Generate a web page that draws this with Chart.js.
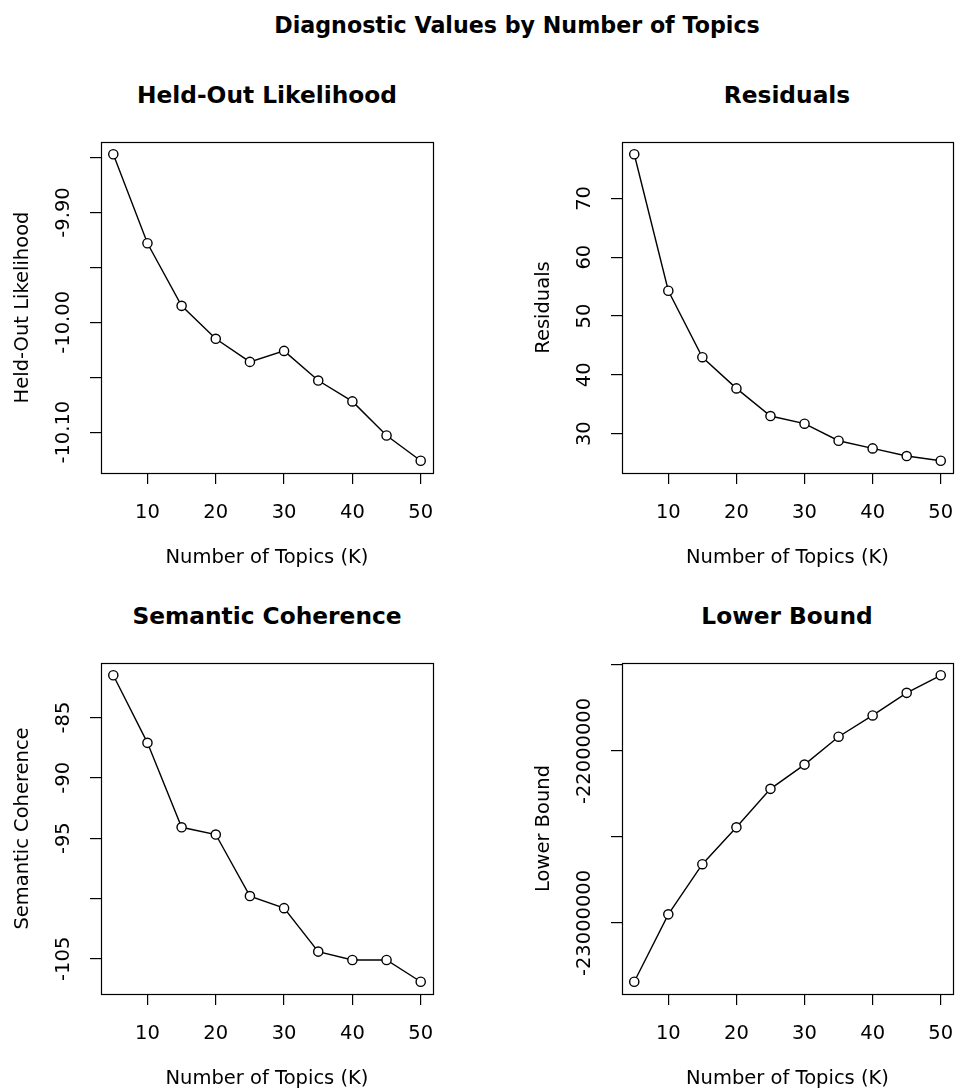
<!DOCTYPE html>
<html>
<head>
<meta charset="utf-8">
<title>Diagnostic Values by Number of Topics</title>
<script src="https://cdn.jsdelivr.net/npm/chart.js@4.4.1/dist/chart.umd.min.js"></script>
<style>
    html, body { margin: 0; padding: 0; background: #fff; overflow: hidden; }
    #pagina { position: relative; width: 956px; height: 1088px; overflow: hidden; font-family: "DejaVu Sans", sans-serif; color: #000; }
    .titulo { position: absolute; font-weight: bold; font-size: 23.3px; line-height: 1; white-space: nowrap; transform: translate(-50%, -50%); }
    canvas { position: absolute; }
</style>
</head>
<body>
<div id="pagina">
    <div class="titulo" style="left:517px; top:25px; font-size:22.2px;">Diagnostic Values by Number of Topics</div>
    <div class="titulo" style="left:267px; top:95px;">Held-Out Likelihood</div>
    <div class="titulo" style="left:787px; top:95px;">Residuals</div>
    <div class="titulo" style="left:267px; top:616px;">Semantic Coherence</div>
    <div class="titulo" style="left:787px; top:616px;">Lower Bound</div>

    <canvas id="c-held" width="478" height="520" style="left:0; top:60px;"></canvas>
    <canvas id="c-resid" width="478" height="520" style="left:478px; top:60px;"></canvas>
    <canvas id="c-coher" width="478" height="512" style="left:0; top:580px;"></canvas>
    <canvas id="c-bound" width="478" height="512" style="left:478px; top:580px;"></canvas>
</div>

<script>
// Datos
const temas = [5, 10, 15, 20, 25, 30, 35, 40, 45, 50];
const heldOut = [-9.847, -9.928, -9.985, -10.015, -10.036, -10.026, -10.053, -10.072, -10.103, -10.126];
const residuos = [77.5, 54.3, 43.0, 37.7, 33.0, 31.7, 28.8, 27.5, 26.2, 25.4];
const coherencia = [-81.5, -87.1, -94.1, -94.7, -99.8, -100.8, -104.4, -105.1, -105.1, -106.9];
const cotaInferior = [-23341700, -22949800, -22658300, -22444000, -22220100, -22079150, -21917000, -21793400, -21662200, -21559800];

// Marcas de los ejes
const ticksX = [10, 20, 30, 40, 50];
const ticksHeld = [-9.85, -9.90, -9.95, -10.00, -10.05, -10.10];
const etiquetasHeld = ['', '-9.90', '', '-10.00', '', '-10.10'];
const ticksResid = [30, 40, 50, 60, 70];
const etiquetasResid = ['30', '40', '50', '60', '70'];
const ticksCoher = [-85, -90, -95, -100, -105];
const etiquetasCoher = ['-85', '-90', '-95', '', '-105'];
const ticksBound = [-21500000, -22000000, -22500000, -23000000];
const etiquetasBound = ['', '-22000000', '', '-23000000'];

const FUENTE = '"DejaVu Sans", sans-serif';
const TAM = 19.5;

// rango con 4% de margen, como hace R
function rango(valores) {
    const min = Math.min(...valores);
    const max = Math.max(...valores);
    const pad = (max - min) * 0.04;
    return { min: min - pad, max: max + pad };
}

// Etiquetas verticales del eje Y y recuadro del panel
const pluginPanel = {
    id: 'pluginPanel',
    afterDraw(chart, args, opts) {
        const ctx = chart.ctx;
        const area = chart.chartArea;
        const escalaY = chart.scales.y;
        ctx.save();
        ctx.strokeStyle = '#000';
        ctx.lineWidth = 1.2;
        ctx.strokeRect(Math.round(area.left) + 0.5, Math.round(area.top) + 0.5,
            Math.round(area.right - area.left), Math.round(area.bottom - area.top));

        ctx.font = TAM + 'px ' + FUENTE;
        ctx.fillStyle = '#000';
        ctx.textAlign = 'center';
        ctx.textBaseline = 'middle';
        opts.ticks.forEach((valor, i) => {
            const texto = opts.etiquetas[i];
            if (!texto) return;
            const py = escalaY.getPixelForValue(valor);
            ctx.save();
            ctx.translate(area.left - 37, py);
            ctx.rotate(-Math.PI / 2);
            ctx.fillText(texto, 0, 0);
            ctx.restore();
        });
        ctx.restore();
    }
};

function dibujarPanel(id, valores, tituloY, ticksY, etiquetasY, padding) {
    const canvas = document.getElementById(id);
    const r = rango(valores);
    const rx = rango(temas);
    return new Chart(canvas, {
        type: 'line',
        data: {
            datasets: [{
                data: temas.map((k, i) => ({ x: k, y: valores[i] })),
                borderColor: '#000',
                borderWidth: 1.4,
                tension: 0,
                pointStyle: 'circle',
                pointRadius: 4.6,
                pointBorderWidth: 1.4,
                pointBorderColor: '#000',
                pointBackgroundColor: '#fff',
                fill: false
            }]
        },
        options: {
            responsive: false,
            animation: false,
            layout: { padding: padding, autoPadding: false },
            plugins: {
                legend: { display: false },
                tooltip: { enabled: false },
                pluginPanel: { ticks: ticksY, etiquetas: etiquetasY }
            },
            scales: {
                x: {
                    type: 'linear',
                    min: rx.min,
                    max: rx.max,
                    afterBuildTicks: (escala) => { escala.ticks = ticksX.map(v => ({ value: v })); },
                    afterFit: (escala) => {
                        escala.height = 97;
                        escala.paddingLeft = 0;
                        escala.paddingRight = 0;
                    },
                    grid: { drawOnChartArea: false, drawTicks: true, tickLength: 11, color: '#000', lineWidth: 1.2 },
                    border: { display: false },
                    ticks: { color: '#000', font: { family: FUENTE, size: TAM }, padding: 17, autoSkip: false, maxRotation: 0 },
                    title: { display: true, text: 'Number of Topics (K)', color: '#000', font: { family: FUENTE, size: TAM }, padding: 0 }
                },
                y: {
                    type: 'linear',
                    min: r.min,
                    max: r.max,
                    afterBuildTicks: (escala) => { escala.ticks = ticksY.map(v => ({ value: v })); },
                    afterFit: (escala) => {
                        escala.width = 101;
                        escala.paddingTop = 0;
                        escala.paddingBottom = 0;
                    },
                    grid: { drawOnChartArea: false, drawTicks: true, tickLength: 11, color: '#000', lineWidth: 1.2 },
                    border: { display: false },
                    ticks: { display: false },
                    title: { display: true, text: tituloY, color: '#000', font: { family: FUENTE, size: TAM }, padding: { top: 11, bottom: 0 } }
                }
            }
        },
        plugins: [pluginPanel]
    });
}

document.addEventListener('DOMContentLoaded', () => {
    dibujarPanel('c-held', heldOut, 'Held-Out Likelihood', ticksHeld, etiquetasHeld, { left: 0, right: 45, top: 82, bottom: 10 });
    dibujarPanel('c-resid', residuos, 'Residuals', ticksResid, etiquetasResid, { left: 43, right: 3, top: 82, bottom: 10 });
    dibujarPanel('c-coher', coherencia, 'Semantic Coherence', ticksCoher, etiquetasCoher, { left: 0, right: 45, top: 83, bottom: 1 });
    dibujarPanel('c-bound', cotaInferior, 'Lower Bound', ticksBound, etiquetasBound, { left: 43, right: 3, top: 83, bottom: 1 });
});
</script>
</body>
</html>
